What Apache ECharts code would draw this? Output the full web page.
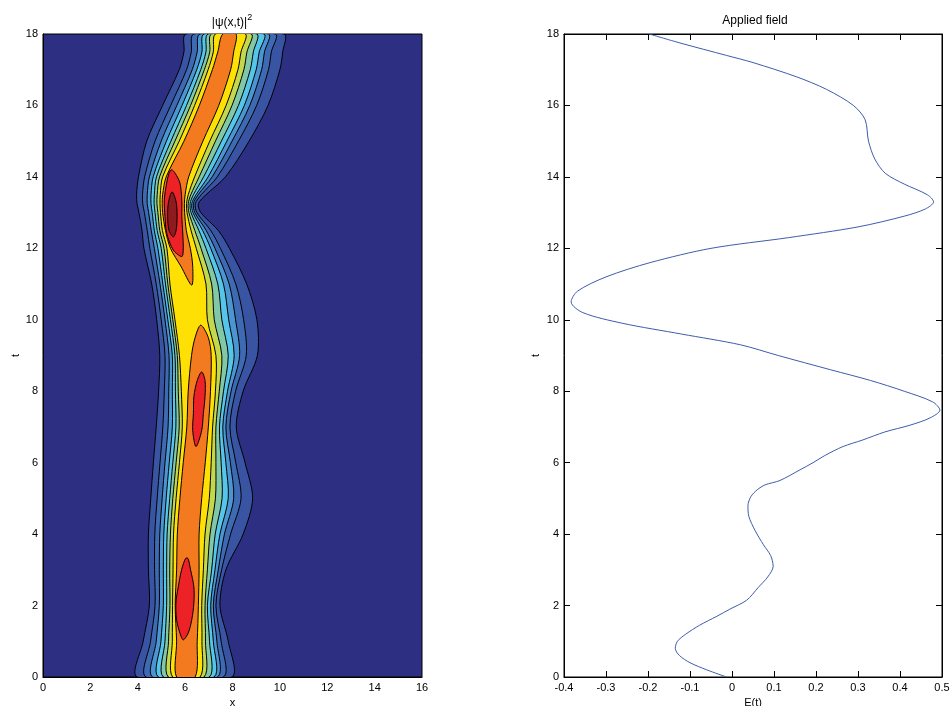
<!DOCTYPE html>
<html>
<head>
<meta charset="utf-8">
<script src="https://cdn.jsdelivr.net/npm/echarts@6/dist/echarts.min.js"></script>
<style>
  html, body { margin: 0; padding: 0; background: #fff; }
  #chart { width: 951px; height: 706px; }
</style>
</head>
<body>
<div id="chart"></div>
<script>
// contour levels of |psi(x,t)|^2: x position of each level edge at time t
const T_LEVELS = [0, 1, 2, 3, 4, 5, 6, 7, 8, 9, 10, 11, 12, 12.5, 13, 13.25, 13.5, 14, 15, 16, 17, 17.5, 18];

const LEFT_1 = [3.98, 4.23, 4.49, 4.45, 4.45, 4.55, 4.66, 4.78, 4.88, 4.93, 4.80, 4.59, 4.26, 4.18, 4.05, 3.97, 3.95, 4.03, 4.38, 5.05, 5.75, 5.95, 6.04];
const LEFT_2 = [4.35, 4.54, 4.73, 4.71, 4.72, 4.82, 4.94, 5.06, 5.12, 5.15, 4.99, 4.78, 4.51, 4.40, 4.28, 4.21, 4.20, 4.29, 4.73, 5.39, 6.06, 6.26, 6.37];
const LEFT_3 = [4.63, 4.78, 4.91, 4.91, 4.93, 5.03, 5.15, 5.28, 5.31, 5.32, 5.15, 4.94, 4.70, 4.57, 4.46, 4.40, 4.40, 4.49, 4.99, 5.65, 6.30, 6.51, 6.63];
const LEFT_4 = [4.87, 4.98, 5.08, 5.08, 5.10, 5.20, 5.33, 5.46, 5.46, 5.46, 5.27, 5.06, 4.85, 4.70, 4.61, 4.56, 4.56, 4.65, 5.21, 5.87, 6.49, 6.71, 6.80];
const LEFT_5 = [5.08, 5.15, 5.22, 5.22, 5.24, 5.35, 5.48, 5.61, 5.59, 5.57, 5.38, 5.17, 4.99, 4.82, 4.73, 4.69, 4.70, 4.79, 5.40, 6.06, 6.66, 6.88, 6.97];
const LEFT_6 = [5.29, 5.30, 5.36, 5.35, 5.38, 5.48, 5.62, 5.75, 5.71, 5.67, 5.48, 5.27, 5.11, 4.93, 4.85, 4.81, 4.82, 4.92, 5.57, 6.23, 6.81, 7.04, 7.11];
const LEFT_7 = [5.47, 5.46, 5.47, 5.49, 5.51, 5.62, 5.76, 5.88, 5.84, 5.76, 5.57, 5.36, 5.23, 5.04, 4.96, 4.94, 4.95, 5.05, 5.75, 6.40, 6.97, 7.19, 7.28];

const RIGHT_7 = [6.63, 6.71, 6.70, 6.77, 6.84, 7.02, 7.10, 7.16, 7.28, 7.30, 6.94, 6.88, 6.47, 6.25, 6.08, 6.06, 6.13, 6.40, 7.04, 7.73, 8.23, 8.36, 8.55];
const RIGHT_6 = [6.80, 6.86, 6.84, 6.94, 7.05, 7.28, 7.30, 7.30, 7.44, 7.55, 7.23, 7.12, 6.67, 6.41, 6.16, 6.13, 6.24, 6.59, 7.28, 7.98, 8.48, 8.61, 8.80];
const RIGHT_5 = [7.02, 7.03, 6.94, 7.12, 7.27, 7.56, 7.52, 7.45, 7.62, 7.82, 7.55, 7.38, 6.88, 6.58, 6.25, 6.21, 6.35, 6.78, 7.53, 8.25, 8.75, 8.88, 9.03];
const RIGHT_4 = [7.22, 7.19, 7.08, 7.26, 7.47, 7.82, 7.72, 7.59, 7.79, 8.07, 7.84, 7.62, 7.08, 6.74, 6.33, 6.28, 6.46, 6.97, 7.76, 8.50, 9.00, 9.13, 9.33];
const RIGHT_3 = [7.36, 7.34, 7.19, 7.40, 7.66, 8.05, 7.91, 7.72, 7.94, 8.30, 8.13, 7.86, 7.26, 6.89, 6.41, 6.35, 6.55, 7.14, 7.98, 8.73, 9.23, 9.35, 9.52];
const RIGHT_2 = [7.61, 7.52, 7.30, 7.54, 7.92, 8.36, 8.14, 7.89, 8.13, 8.58, 8.47, 8.14, 7.49, 7.08, 6.50, 6.43, 6.68, 7.36, 8.25, 9.02, 9.52, 9.64, 9.81];
const RIGHT_1 = [7.96, 7.82, 7.47, 7.72, 8.45, 8.85, 8.53, 8.16, 8.45, 9.05, 9.03, 8.60, 7.87, 7.40, 6.66, 6.56, 6.88, 7.70, 8.70, 9.50, 10.00, 10.12, 10.17];

// level 8 (orange): two separate regions
const ORANGE_LOW_T = [0, 1, 2, 3, 4, 5, 6, 7, 8, 9, 9.5, 9.85];
const ORANGE_LOW_L = [5.64, 5.64, 5.58, 5.64, 5.67, 5.78, 5.92, 6.07, 6.13, 6.27, 6.42, 6.66];
const ORANGE_LOW_R = [6.42, 6.51, 6.56, 6.59, 6.59, 6.70, 6.85, 6.98, 7.07, 7.10, 6.98, 6.66];

const ORANGE_UP_T = [10.97, 11.5, 12, 12.5, 13, 13.25, 13.5, 14, 15, 16, 17, 17.5, 18];
const ORANGE_UP_L = [6.28, 5.82, 5.38, 5.17, 5.05, 5.03, 5.05, 5.20, 5.95, 6.60, 7.15, 7.38, 7.59];
const ORANGE_UP_R = [6.28, 6.32, 6.22, 6.05, 5.98, 5.97, 6.00, 6.15, 6.75, 7.42, 7.92, 8.05, 8.15];

// level 9 (red) islands
const RED_LOW_T = [1.04, 1.23, 1.6, 2.07, 2.52, 3.0, 3.32];
const RED_LOW_L = [5.92, 5.78, 5.64, 5.61, 5.71, 5.85, 6.02];
const RED_LOW_R = [5.92, 6.13, 6.28, 6.37, 6.37, 6.23, 6.12];

const RED_MID_T = [6.45, 6.9, 7.38, 7.85, 8.3, 8.54];
const RED_MID_L = [6.46, 6.32, 6.35, 6.37, 6.51, 6.70];
const RED_MID_R = [6.46, 6.70, 6.77, 6.84, 6.84, 6.70];

const RED_UP_T = [11.77, 11.95, 12.43, 12.9, 13.35, 13.83, 14.1, 14.2];
const RED_UP_L = [5.86, 5.50, 5.22, 5.15, 5.12, 5.22, 5.32, 5.43];
const RED_UP_R = [5.86, 5.92, 5.90, 5.86, 5.86, 5.78, 5.58, 5.43];

// level 10 (dark red)
const DARK_T = [12.32, 12.5, 12.9, 13.3, 13.58];
const DARK_L = [5.50, 5.32, 5.26, 5.30, 5.45];
const DARK_R = [5.50, 5.62, 5.66, 5.62, 5.45];

// applied field E(t)
const FIELD_T = [0, 0.2, 0.4, 0.6, 0.8, 1.0, 1.2, 1.45, 1.7, 1.9, 2.15, 2.5, 2.8, 3.1, 3.4, 3.7, 4.1, 4.5, 4.8, 5.05,
  5.24, 5.38, 5.5, 5.8, 6.0, 6.2, 6.45, 6.63, 6.86, 7.05, 7.25, 7.47, 7.7, 8.0, 8.3, 8.6, 9.0, 9.3, 9.6, 9.9,
  10.2, 10.5, 10.8, 11.2, 11.6, 12.0, 12.3, 12.6, 12.9, 13.1, 13.3, 13.5, 13.8, 14.1, 14.5, 15.0, 15.6, 16.0, 16.45, 16.8,
  17.2, 17.4, 17.75, 18.0];
const FIELD_E = [-0.013, -0.06, -0.10, -0.125, -0.135, -0.13, -0.11, -0.077, -0.036, -0.005, 0.035, 0.062, 0.085, 0.098, 0.092, 0.075, 0.055, 0.04, 0.038, 0.045,
  0.06, 0.079, 0.114, 0.162, 0.193, 0.221, 0.264, 0.31, 0.364, 0.424, 0.471, 0.495, 0.478, 0.41, 0.33, 0.235, 0.11, 0.02, -0.12, -0.26,
  -0.355, -0.383, -0.368, -0.30, -0.195, -0.05, 0.135, 0.30, 0.41, 0.46, 0.48, 0.465, 0.41, 0.365, 0.34, 0.325, 0.317, 0.289, 0.225, 0.154,
  0.05, -0.013, -0.124, -0.197];

const BG_COLOR = '#2D2F82';
const LEVEL_COLORS = [BG_COLOR, '#3A54A4', '#3E69B3', '#4A95D2', '#55C5EA', '#80C8A8', '#C4D84E', '#FFE005', '#F47A20', '#EC2226', '#8E1B1E'];
const FONT = '"Liberation Sans", Arial, Helvetica, sans-serif';

// build closed outlines: left edge upward, right edge back down
const polygons = [];
function addBand(level, ts, left, right) {
  const pts = [];
  for (let i = 0; i < ts.length; i++) pts.push([left[i], ts[i]]);
  for (let i = ts.length - 1; i >= 0; i--) {
    if (right[i] === left[i]) continue;
    pts.push([right[i], ts[i]]);
  }
  polygons.push({ level, pts });
}
addBand(1, T_LEVELS, LEFT_1, RIGHT_1);
addBand(2, T_LEVELS, LEFT_2, RIGHT_2);
addBand(3, T_LEVELS, LEFT_3, RIGHT_3);
addBand(4, T_LEVELS, LEFT_4, RIGHT_4);
addBand(5, T_LEVELS, LEFT_5, RIGHT_5);
addBand(6, T_LEVELS, LEFT_6, RIGHT_6);
addBand(7, T_LEVELS, LEFT_7, RIGHT_7);
addBand(8, ORANGE_LOW_T, ORANGE_LOW_L, ORANGE_LOW_R);
addBand(8, ORANGE_UP_T, ORANGE_UP_L, ORANGE_UP_R);
addBand(9, RED_LOW_T, RED_LOW_L, RED_LOW_R);
addBand(9, RED_MID_T, RED_MID_L, RED_MID_R);
addBand(9, RED_UP_T, RED_UP_L, RED_UP_R);
addBand(10, DARK_T, DARK_L, DARK_R);

const chart = echarts.init(document.getElementById('chart'));

const labelStyle = { color: '#000', fontSize: 11, fontFamily: FONT };
const nameStyle = { color: '#000', fontSize: 11, fontFamily: FONT };
const blackLine = { onZero: false, lineStyle: { color: '#000', width: 1 } };
const innerTick = { inside: true, length: 6, lineStyle: { color: '#000' } };

const option = {
  animation: false,
  backgroundColor: '#fff',
  graphic: [
    {
      type: 'text', x: 232, y: 21,
      style: {
        text: '{m||ψ(x,t)|}{s|2}', textAlign: 'center', textVerticalAlign: 'middle',
        rich: {
          m: { fontSize: 12, fontFamily: FONT, color: '#000', lineHeight: 16, verticalAlign: 'bottom' },
          s: { fontSize: 9, fontFamily: FONT, color: '#000', lineHeight: 16, verticalAlign: 'top' },
        },
      },
    },
    { type: 'text', x: 755, y: 21, style: { text: 'Applied field', font: '12px ' + FONT, fill: '#000', textAlign: 'center', textVerticalAlign: 'middle' } },
  ],
  grid: [
    { left: 43, right: 529, top: 34, bottom: 29, outerBoundsMode: 'none', show: true, backgroundColor: BG_COLOR, borderColor: '#000', borderWidth: 1 },
    { left: 564, right: 9, top: 34, bottom: 29, outerBoundsMode: 'none', show: true, backgroundColor: '#fff', borderColor: '#000', borderWidth: 1 },
  ],
  xAxis: [
    {
      gridIndex: 0, type: 'value', min: 0, max: 16, interval: 2,
      name: 'x', nameLocation: 'middle', nameGap: 19, nameTextStyle: nameStyle,
      axisLine: blackLine, axisTick: { show: false },
      axisLabel: Object.assign({ margin: 5, showMinLabel: true, showMaxLabel: true }, labelStyle),
      splitLine: { show: false },
    },
    {
      gridIndex: 1, type: 'value', min: -0.4, max: 0.5, interval: 0.1,
      name: 'E(t)', nameLocation: 'middle', nameGap: 19, nameTextStyle: nameStyle,
      axisLine: blackLine, axisTick: innerTick,
      axisLabel: Object.assign({ margin: 5, showMinLabel: true, showMaxLabel: true, hideOverlap: false }, labelStyle),
      splitLine: { show: false },
    },
    {
      gridIndex: 1, type: 'value', position: 'top', min: -0.4, max: 0.5, interval: 0.1,
      axisLine: blackLine, axisTick: innerTick,
      axisLabel: { show: false }, splitLine: { show: false },
    },
  ],
  yAxis: [
    {
      gridIndex: 0, type: 'value', min: 0, max: 18, interval: 2,
      name: 't', nameLocation: 'middle', nameGap: 22, nameRotate: 90, nameTextStyle: nameStyle,
      axisLine: blackLine, axisTick: { show: false },
      axisLabel: Object.assign({ margin: 5 }, labelStyle),
      splitLine: { show: false },
    },
    {
      gridIndex: 1, type: 'value', min: 0, max: 18, interval: 2,
      name: 't', nameLocation: 'middle', nameGap: 23, nameRotate: 90, nameTextStyle: nameStyle,
      axisLine: blackLine, axisTick: innerTick,
      axisLabel: Object.assign({ margin: 5 }, labelStyle),
      splitLine: { show: false },
    },
    {
      gridIndex: 1, type: 'value', position: 'right', min: 0, max: 18, interval: 2,
      axisLine: blackLine, axisTick: innerTick,
      axisLabel: { show: false }, splitLine: { show: false },
    },
  ],
  series: [
    {
      type: 'custom',
      xAxisIndex: 0, yAxisIndex: 0,
      clip: true,
      encode: { x: 0, y: 1 },
      data: polygons.map(p => p.pts[0]),
      renderItem: (params, api) => {
        const p = polygons[params.dataIndex];
        return {
          type: 'polygon',
          shape: { points: p.pts.map(q => api.coord(q)), smooth: 0.3 },
          style: { fill: LEVEL_COLORS[p.level], stroke: '#000', lineWidth: 1 },
        };
      },
    },
    {
      type: 'line',
      xAxisIndex: 1, yAxisIndex: 1,
      data: FIELD_E.map((e, i) => [e, FIELD_T[i]]),
      showSymbol: false,
      smooth: 0.3,
      lineStyle: { color: '#3F5CAB', width: 1 },
    },
  ],
};

chart.setOption(option);
</script>
</body>
</html>
